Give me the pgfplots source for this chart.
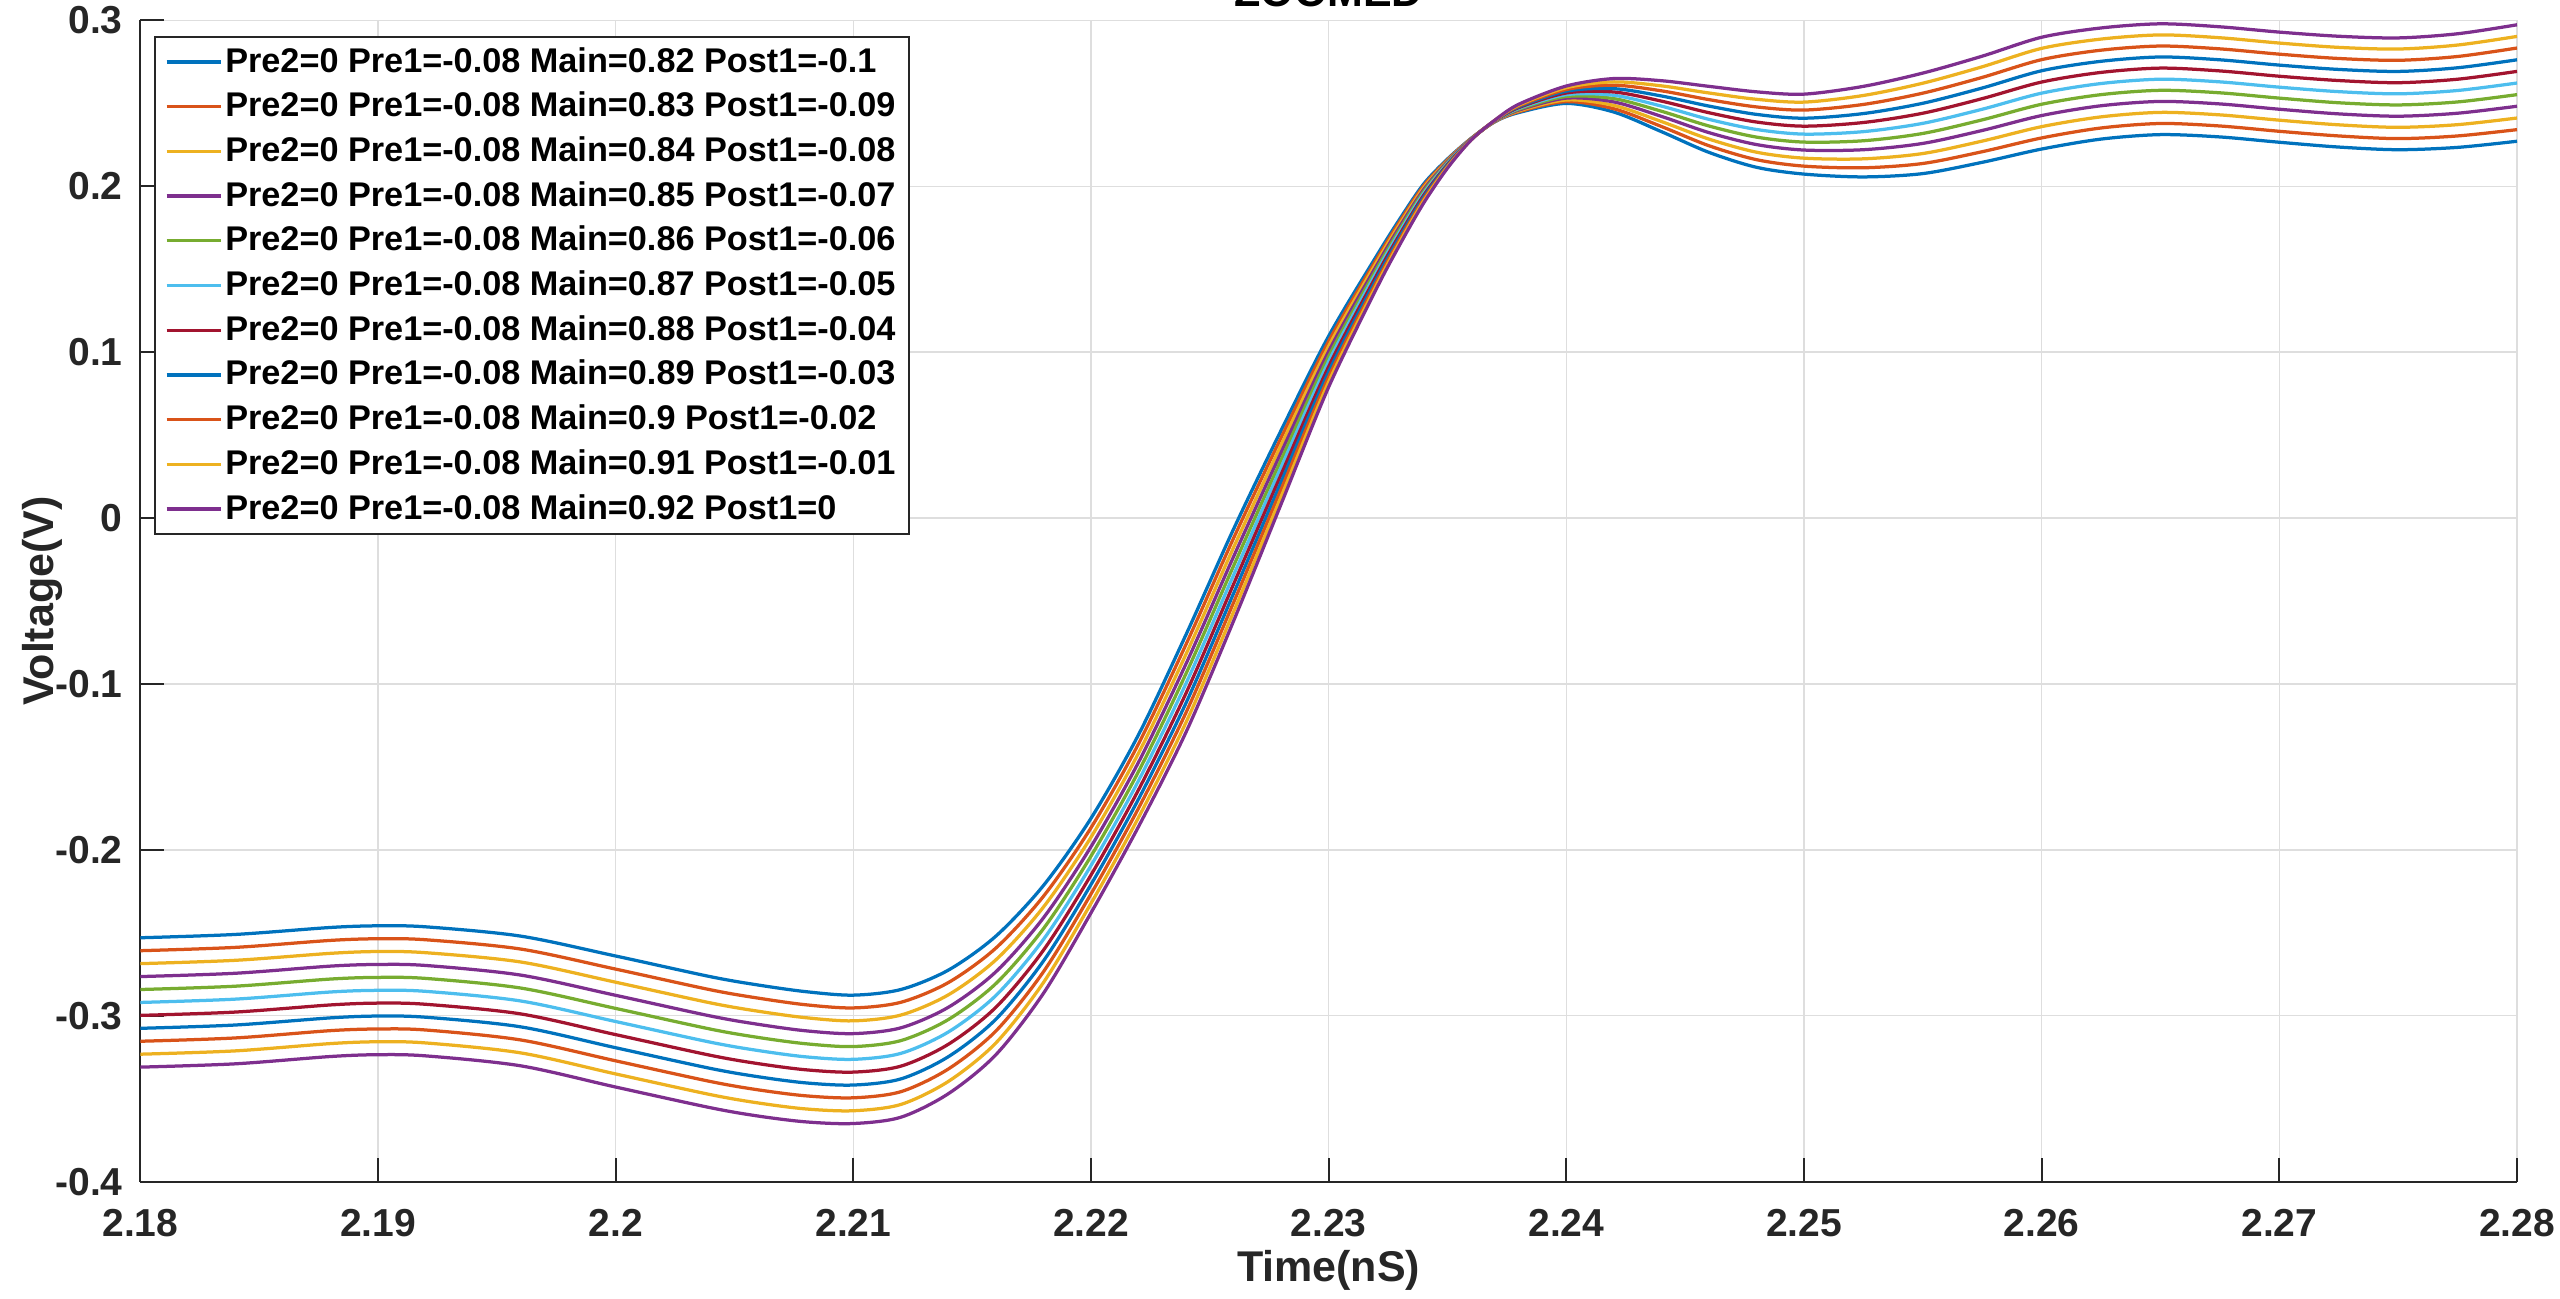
\documentclass[border=0pt]{standalone}
\usepackage{fontspec}
\setmainfont{Liberation Sans}
\usepackage{pgfplots}
\usepackage{pgfplotstable}
\pgfplotsset{compat=1.18}

\definecolor{mblue}{HTML}{0072BD}
\definecolor{morange}{HTML}{D95319}
\definecolor{myellow}{HTML}{EDB120}
\definecolor{mpurple}{HTML}{7E2F8E}
\definecolor{mgreen}{HTML}{77AC30}
\definecolor{mcyan}{HTML}{4DBEEE}
\definecolor{mred}{HTML}{A2142F}
\definecolor{axgray}{HTML}{262626}
\definecolor{gridgray}{HTML}{DEDEDE}

% time (ns) and the eleven eye-edge voltages
\pgfplotstableread{
t c0 c1 c2 c3 c4 c5 c6 c7 c8 c9 c10
2.180 -0.2530 -0.2608 -0.2686 -0.2764 -0.2842 -0.2920 -0.2998 -0.3076 -0.3154 -0.3232 -0.3310
2.184 -0.2510 -0.2588 -0.2666 -0.2744 -0.2822 -0.2900 -0.2978 -0.3056 -0.3134 -0.3212 -0.3290
2.188 -0.2468 -0.2546 -0.2624 -0.2701 -0.2779 -0.2857 -0.2935 -0.3013 -0.3090 -0.3168 -0.3246
2.190 -0.2458 -0.2536 -0.2613 -0.2691 -0.2769 -0.2847 -0.2924 -0.3002 -0.3080 -0.3157 -0.3235
2.192 -0.2464 -0.2542 -0.2620 -0.2697 -0.2775 -0.2853 -0.2931 -0.3009 -0.3086 -0.3164 -0.3242
2.196 -0.2520 -0.2598 -0.2676 -0.2755 -0.2833 -0.2911 -0.2989 -0.3067 -0.3146 -0.3224 -0.3302
2.200 -0.2640 -0.2719 -0.2798 -0.2877 -0.2956 -0.3035 -0.3114 -0.3193 -0.3272 -0.3351 -0.3430
2.204 -0.2765 -0.2844 -0.2923 -0.3002 -0.3081 -0.3160 -0.3239 -0.3318 -0.3397 -0.3476 -0.3555
2.206 -0.2815 -0.2894 -0.2973 -0.3052 -0.3131 -0.3210 -0.3289 -0.3368 -0.3447 -0.3526 -0.3605
2.208 -0.2855 -0.2934 -0.3012 -0.3091 -0.3169 -0.3248 -0.3326 -0.3405 -0.3483 -0.3562 -0.3640
2.210 -0.2876 -0.2953 -0.3031 -0.3108 -0.3186 -0.3263 -0.3340 -0.3418 -0.3495 -0.3573 -0.3650
2.212 -0.2842 -0.2919 -0.2996 -0.3073 -0.3150 -0.3227 -0.3304 -0.3381 -0.3458 -0.3535 -0.3612
2.214 -0.2725 -0.2800 -0.2874 -0.2949 -0.3023 -0.3098 -0.3172 -0.3247 -0.3321 -0.3396 -0.3470
2.216 -0.2520 -0.2592 -0.2663 -0.2735 -0.2806 -0.2878 -0.2949 -0.3021 -0.3092 -0.3164 -0.3235
2.218 -0.2215 -0.2280 -0.2345 -0.2410 -0.2475 -0.2540 -0.2605 -0.2670 -0.2735 -0.2800 -0.2865
2.220 -0.1810 -0.1867 -0.1924 -0.1981 -0.2038 -0.2095 -0.2152 -0.2209 -0.2266 -0.2323 -0.2380
2.222 -0.1306 -0.1361 -0.1417 -0.1472 -0.1528 -0.1583 -0.1638 -0.1694 -0.1749 -0.1805 -0.1860
2.224 -0.0702 -0.0761 -0.0820 -0.0878 -0.0937 -0.0996 -0.1055 -0.1114 -0.1172 -0.1231 -0.1290
2.226 -0.0066 -0.0121 -0.0177 -0.0232 -0.0288 -0.0343 -0.0398 -0.0454 -0.0509 -0.0565 -0.0620
2.228 0.0529 0.0485 0.0440 0.0396 0.0351 0.0307 0.0263 0.0218 0.0174 0.0129 0.0085
2.230 0.1097 0.1066 0.1036 0.1005 0.0974 0.0944 0.0913 0.0882 0.0851 0.0821 0.0790
2.232 0.1577 0.1557 0.1538 0.1518 0.1498 0.1479 0.1459 0.1439 0.1419 0.1400 0.1380
2.233 0.1805 0.1790 0.1774 0.1759 0.1743 0.1728 0.1712 0.1697 0.1681 0.1666 0.1650
2.234 0.2015 0.2004 0.1992 0.1981 0.1969 0.1958 0.1946 0.1935 0.1923 0.1912 0.1900
2.235 0.2165 0.2160 0.2154 0.2149 0.2143 0.2138 0.2132 0.2127 0.2121 0.2116 0.2110
2.236 0.2290 0.2289 0.2288 0.2287 0.2286 0.2285 0.2284 0.2283 0.2282 0.2281 0.2280
2.237 0.2390 0.2391 0.2392 0.2393 0.2394 0.2395 0.2396 0.2397 0.2398 0.2399 0.2400
2.238 0.2445 0.2450 0.2455 0.2460 0.2465 0.2470 0.2475 0.2480 0.2485 0.2490 0.2495
2.240 0.2500 0.2511 0.2521 0.2532 0.2542 0.2553 0.2563 0.2574 0.2584 0.2595 0.2605
2.242 0.2448 0.2468 0.2488 0.2509 0.2529 0.2549 0.2569 0.2589 0.2610 0.2630 0.2650
2.244 0.2330 0.2361 0.2391 0.2422 0.2453 0.2484 0.2514 0.2545 0.2576 0.2606 0.2637
2.246 0.2205 0.2245 0.2285 0.2324 0.2364 0.2404 0.2444 0.2484 0.2523 0.2563 0.2603
2.248 0.2115 0.2161 0.2206 0.2252 0.2297 0.2343 0.2388 0.2434 0.2479 0.2525 0.2570
2.250 0.2074 0.2122 0.2170 0.2219 0.2267 0.2315 0.2363 0.2411 0.2460 0.2508 0.2556
2.2525 0.2057 0.2112 0.2166 0.2221 0.2275 0.2330 0.2385 0.2439 0.2494 0.2548 0.2603
2.255 0.2077 0.2138 0.2198 0.2259 0.2319 0.2380 0.2441 0.2501 0.2562 0.2622 0.2683
2.2575 0.2145 0.2209 0.2273 0.2337 0.2401 0.2465 0.2529 0.2593 0.2657 0.2721 0.2785
2.260 0.2225 0.2292 0.2360 0.2427 0.2495 0.2562 0.2629 0.2697 0.2764 0.2832 0.2899
2.2625 0.2285 0.2352 0.2419 0.2486 0.2553 0.2620 0.2687 0.2754 0.2821 0.2888 0.2955
2.265 0.2312 0.2379 0.2446 0.2512 0.2579 0.2646 0.2713 0.2780 0.2846 0.2913 0.2980
2.2675 0.2298 0.2364 0.2431 0.2497 0.2564 0.2630 0.2696 0.2763 0.2829 0.2896 0.2962
2.270 0.2266 0.2332 0.2399 0.2465 0.2532 0.2598 0.2664 0.2731 0.2797 0.2864 0.2930
2.2725 0.2237 0.2304 0.2371 0.2437 0.2504 0.2571 0.2638 0.2705 0.2771 0.2838 0.2905
2.275 0.2221 0.2288 0.2356 0.2423 0.2491 0.2558 0.2625 0.2693 0.2760 0.2828 0.2895
2.2775 0.2235 0.2304 0.2372 0.2441 0.2509 0.2578 0.2646 0.2715 0.2783 0.2852 0.2920
2.280 0.2272 0.2342 0.2412 0.2483 0.2553 0.2623 0.2693 0.2763 0.2834 0.2904 0.2974
}\wave

\begin{document}
\begin{tikzpicture}
\begin{axis}[
    name=ax,
    scale only axis,
    width=475.3pt, height=232.2pt,
    xmin=2.18, xmax=2.28,
    ymin=-0.4, ymax=0.3,
    enlargelimits=false,
    axis x line*=bottom,
    axis y line*=left,
    axis line style={axgray, line width=0.4pt},
    tick align=inside,
    major tick length=4.8pt,
    tick style={axgray, line width=0.4pt},
    xtick={2.18,2.19,2.20,2.21,2.22,2.23,2.24,2.25,2.26,2.27,2.28},
    xticklabels={2.18,2.19,2.2,2.21,2.22,2.23,2.24,2.25,2.26,2.27,2.28},
    ytick={-0.4,-0.3,-0.2,-0.1,0,0.1,0.2,0.3},
    yticklabels={-0.4,-0.3,-0.2,-0.1,0,0.1,0.2,0.3},
    ticklabel style={font=\fontsize{7.8}{9}\selectfont\bfseries, text=axgray},
    xticklabel style={yshift=-2.1pt},
    grid=major,
    major grid style={gridgray, line width=0.3pt},
    xlabel={Time(nS)},
    ylabel={Voltage(V)},
    label style={font=\fontsize{8.6}{10}\selectfont\bfseries, text=axgray},
    xlabel style={at={(axis description cs:0.5,-0.0762)}, anchor=center},
    ylabel style={at={(axis description cs:-0.0412,0.5)}, anchor=center},
    title={ZOOMED},
    every axis title shift=0pt,
    title style={font=\fontsize{8.6}{10}\selectfont\bfseries, at={(axis description cs:0.5,1)}, anchor=base, inner sep=0pt, yshift=2.8pt},
    every axis plot/.append style={line width=0.65pt, smooth},
    legend cell align=left,
    legend image code/.code={\draw[#1, line width=0.65pt] (0pt,0pt) -- (10.8pt,0pt);},
    legend style={
        at={(0,1)}, anchor=north west, xshift=2.74pt, yshift=-3.1pt,
        draw=axgray, line width=0.4pt, fill=white,
        font=\fontsize{6.85}{8}\selectfont\bfseries,
        inner xsep=2pt, inner ysep=1.5pt,
        row sep=1.94pt,
        nodes={inner xsep=0.6pt, inner ysep=0pt, text height=5.5pt, text depth=1.5pt},
    },
]
\addplot[mblue]   table[x=t, y=c0]  {\wave};
\addlegendentry{Pre2=0 Pre1=-0.08 Main=0.82 Post1=-0.1}
\addplot[morange] table[x=t, y=c1]  {\wave};
\addlegendentry{Pre2=0 Pre1=-0.08 Main=0.83 Post1=-0.09}
\addplot[myellow] table[x=t, y=c2]  {\wave};
\addlegendentry{Pre2=0 Pre1=-0.08 Main=0.84 Post1=-0.08}
\addplot[mpurple] table[x=t, y=c3]  {\wave};
\addlegendentry{Pre2=0 Pre1=-0.08 Main=0.85 Post1=-0.07}
\addplot[mgreen]  table[x=t, y=c4]  {\wave};
\addlegendentry{Pre2=0 Pre1=-0.08 Main=0.86 Post1=-0.06}
\addplot[mcyan]   table[x=t, y=c5]  {\wave};
\addlegendentry{Pre2=0 Pre1=-0.08 Main=0.87 Post1=-0.05}
\addplot[mred]    table[x=t, y=c6]  {\wave};
\addlegendentry{Pre2=0 Pre1=-0.08 Main=0.88 Post1=-0.04}
\addplot[mblue]   table[x=t, y=c7]  {\wave};
\addlegendentry{Pre2=0 Pre1=-0.08 Main=0.89 Post1=-0.03}
\addplot[morange] table[x=t, y=c8]  {\wave};
\addlegendentry{Pre2=0 Pre1=-0.08 Main=0.9 Post1=-0.02}
\addplot[myellow] table[x=t, y=c9]  {\wave};
\addlegendentry{Pre2=0 Pre1=-0.08 Main=0.91 Post1=-0.01}
\addplot[mpurple] table[x=t, y=c10] {\wave};
\addlegendentry{Pre2=0 Pre1=-0.08 Main=0.92 Post1=0}
\end{axis}
\pgfresetboundingbox
\useasboundingbox ([xshift=-28.06pt,yshift=-23.3pt]ax.south west) rectangle ([xshift=8.6pt,yshift=4.1pt]ax.north east);
\end{tikzpicture}
\end{document}
